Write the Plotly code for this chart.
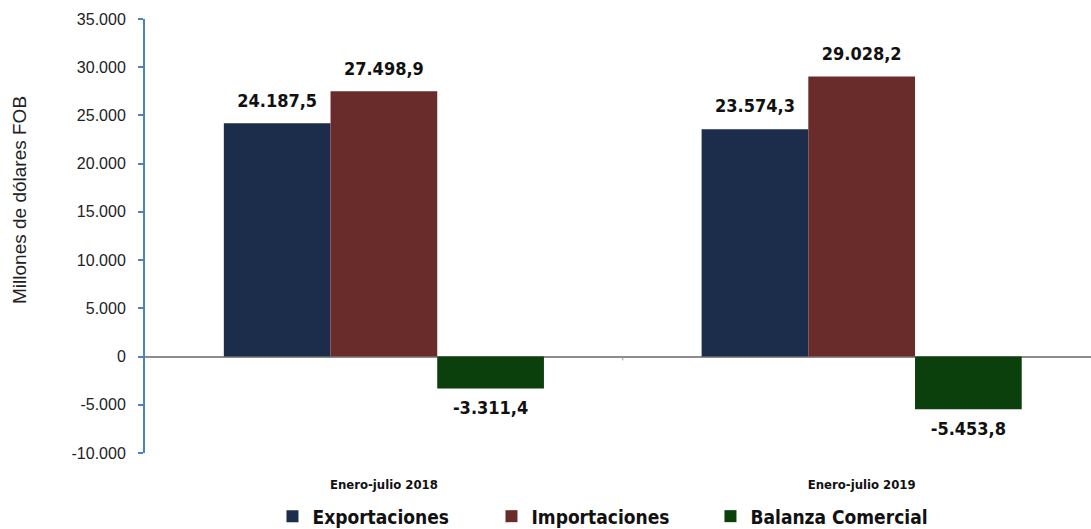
import plotly.graph_objects as go

categories = ["Enero-julio 2018", "Enero-julio 2019"]
exportaciones = [24187.5, 23574.3]
importaciones = [27498.9, 29028.2]
balanza = [-3311.4, -5453.8]
y_ticks = [-10000, -5000, 0, 5000, 10000, 15000, 20000, 25000, 30000, 35000]
y_ticktext = ["-10.000", "-5.000", "0", "5.000", "10.000", "15.000", "20.000", "25.000", "30.000", "35.000"]
y_title = "Millones de dólares FOB"


def es_fmt(v):
    s = f"{v:,.1f}"
    return s.replace(",", "X").replace(".", ",").replace("X", ".")


series = [
    ("Exportaciones", exportaciones, "#1B2D4B"),
    ("Importaciones", importaciones, "#6A2B2B"),
    ("Balanza Comercial", balanza, "#0B3F0B"),
]

COND = "DejaVu Sans Condensed, Liberation Sans Narrow, Arial Narrow, sans-serif"
label_font = dict(family=COND, size=18, color="#111111", weight="bold")

fig = go.Figure()
for name, vals, color in series:
    fig.add_trace(go.Bar(
        x=categories, y=vals, name=name,
        marker=dict(color=color, line=dict(width=0)),
        offsetgroup=name,
    ))

for name, vals, color in series:
    fig.add_trace(go.Scatter(
        x=categories, y=vals, mode="markers+text",
        text=[es_fmt(v) for v in vals],
        textposition=["top center" if v >= 0 else "bottom center" for v in vals],
        textfont=label_font,
        marker=dict(size=18, opacity=0, color=color),
        offsetgroup=name, showlegend=False, hoverinfo="skip", cliponaxis=False,
    ))

fig.add_shape(type="line", xref="x", yref="y", x0=0.5, x1=0.5, y0=0, y1=-400,
              line=dict(color="#999999", width=1))

fig.add_annotation(text=y_title, textangle=-90, showarrow=False,
                   xref="paper", yref="paper", x=0, y=0.583, xanchor="center", yanchor="middle",
                   xshift=-125, font=dict(size=19, color="#222222"))

fig.update_layout(
    width=1091, height=529,
    margin=dict(l=145, r=0, t=19, b=76),
    paper_bgcolor="white", plot_bgcolor="white",
    barmode="group", bargap=0.33, bargroupgap=0,
    scattermode="group", scattergap=0.33,
    font=dict(family="Arial, Liberation Sans, sans-serif", color="#222222"),
    showlegend=True,
    legend=dict(orientation="h", x=0.482, xanchor="center",
                yref="container", y=0.024, yanchor="middle",
                font=dict(family=COND, size=19, color="#111111", weight="bold"),
                traceorder="normal", entrywidth=174),
    xaxis=dict(range=[-0.5, 1.48], showline=False, showgrid=False, ticks="",
               tickfont=dict(family=COND, size=13, color="#111111", weight="bold"),
               ticklabelstandoff=22, automargin=False),
    yaxis=dict(range=[-10000, 35000], tickvals=y_ticks, ticktext=y_ticktext,
               showgrid=False, showline=True, linecolor="#4F81BD", linewidth=2,
               ticks="outside", ticklen=5, tickcolor="#4F81BD", tickwidth=2,
               ticklabelstandoff=9,
               zeroline=True, zerolinecolor="#8C8C8C", zerolinewidth=2,
               tickfont=dict(size=16, color="#222222"), automargin=False),
)

fig.write_html("out.html", config={"displayModeBar": False},
               post_script="document.body.style.margin='0';")
